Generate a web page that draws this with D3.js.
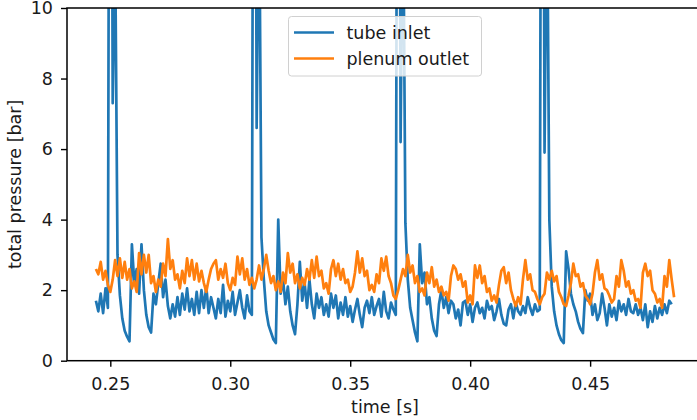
<!DOCTYPE html>
<html>
<head>
<meta charset="utf-8">
<script src="https://cdn.jsdelivr.net/npm/d3@7"></script>
<style>
    html, body { margin: 0; padding: 0; background: #fff; }
    svg { display: block; font-family: 'DejaVu Sans', sans-serif; }
</style>
</head>
<body>
<div id="chart"></div>
<script>
// sampling of both signals
const startTime = 0.244; // s
const sampleStep = 0.001; // s

// total pressure [bar], tube inlet
const tubeInlet = [
    1.7, 1.4, 1.9, 1.35, 2.05, 1.5, 30, 7.3, 12, 3.0,
    1.85, 1.2, 0.85, 0.68, 0.55, 3.3, 2.2, 2.6, 1.9, 3.3,
    2.0, 1.3, 0.95, 0.8, 1.9, 1.6, 2.2, 2.75, 1.8, 2.3,
    1.55, 1.2, 1.6, 1.25, 1.8, 1.3, 1.9, 1.45, 2.05, 1.4,
    1.75, 1.3, 1.95, 1.35, 2.0, 1.5, 2.1, 1.35, 1.8, 1.5,
    1.2, 1.75, 1.35, 2.15, 1.25, 1.7, 1.4, 1.95, 1.3, 1.65,
    2.0, 1.5, 1.2, 1.85, 1.4, 1.3, 30, 6.6, 14, 3.5,
    2.3, 1.4, 1.0, 0.8, 0.6, 0.5, 4.0, 1.9, 2.3, 1.6,
    2.1, 1.4, 1.0, 0.75, 1.6, 2.8, 1.7, 2.2, 1.5, 2.3,
    1.6, 1.2, 1.9, 1.5, 1.8, 1.3, 1.6, 1.25, 1.9, 1.5,
    1.85, 1.2, 1.65, 1.3, 1.8, 1.25, 1.55, 1.1, 1.45, 1.75,
    1.3, 0.95, 1.5, 1.7, 1.35, 1.8, 1.3, 1.55, 1.75, 1.25,
    1.95, 1.4, 1.2, 1.65, 1.45, 1.3, 30, 6.2, 14, 3.9,
    2.3, 1.5, 1.15, 0.8, 0.55, 3.3, 2.2, 2.5, 1.6, 1.8,
    1.2, 0.85, 0.7, 1.6, 2.0, 1.5, 1.8, 1.35, 1.7, 1.6,
    1.2, 1.45, 1.0, 1.65, 1.7, 1.3, 1.6, 1.1, 1.5, 1.65,
    1.35, 1.5, 1.2, 1.7, 1.45, 1.55, 1.15, 1.4, 1.75, 1.3,
    1.05, 1.0, 1.45, 1.6, 1.2, 1.65, 1.4, 1.3, 1.55, 1.35,
    1.8, 1.5, 1.3, 1.6, 1.4, 1.45, 30, 5.9, 14, 4.0,
    2.1, 1.4, 1.0, 0.75, 0.58, 0.5, 3.1, 2.6, 1.9, 1.6,
    1.4, 1.1, 0.9, 0.78, 2.0, 1.7, 1.9, 1.3, 1.6, 1.15,
    1.35, 1.9, 1.5, 1.0, 1.6, 1.25, 1.5, 1.15, 1.7, 1.4,
    1.6, 1.3, 1.75, 1.4, 1.35, 1.6, 1.3, 1.5, 1.15, 1.6,
    0.95, 1.4, 1.1, 1.55, 1.2, 1.5, 1.3, 1.6, 1.35, 1.7,
    1.6,
];

// total pressure [bar], plenum outlet
const plenumOutlet = [
    2.6, 2.45, 2.8, 2.3, 2.55, 2.15, 1.95, 2.3, 2.85, 2.4,
    2.9, 2.35, 2.8, 2.3, 2.6, 2.05, 2.25, 1.95, 3.05, 2.45,
    3.0, 2.5, 3.0, 2.2, 2.4, 1.95, 2.3, 2.1, 2.75, 2.4,
    3.45, 2.6, 2.85, 2.3, 2.45, 2.05, 2.55, 2.2, 2.9, 2.4,
    2.85, 2.3, 2.75, 2.25, 2.55, 2.2, 1.95, 2.3, 2.6, 2.75,
    2.85, 2.3, 2.6, 2.35, 2.75, 2.2, 2.0, 2.35, 2.15, 2.95,
    2.45, 2.9, 2.3, 2.6, 2.15, 2.35, 2.05, 2.3, 2.7, 2.3,
    2.6, 3.0, 2.55, 2.2, 2.4, 2.0, 2.25, 1.95, 2.5, 2.2,
    3.05, 2.5, 2.75, 2.2, 2.45, 2.05, 2.35, 2.15, 2.6, 2.3,
    2.85, 2.35, 2.95, 2.4, 2.55, 2.05, 2.2, 1.9, 2.6, 2.85,
    2.4, 2.75, 2.3, 2.6, 2.2, 2.3, 1.95, 2.1, 2.5, 3.1,
    2.5, 2.9, 2.4, 2.55, 2.0, 2.15, 1.95, 2.45, 2.2, 2.9,
    2.55, 2.95, 2.4, 2.2, 1.85, 1.75, 2.0, 2.3, 2.6, 2.4,
    3.0, 2.5, 2.7, 2.2, 2.4, 1.95, 2.05, 1.85, 2.5, 2.2,
    2.65, 2.1, 2.3, 1.95, 2.1, 1.85, 1.95, 1.7, 2.4, 2.7,
    2.6, 2.3, 2.45, 2.1, 2.25, 1.65, 1.85, 1.6, 2.7, 2.35,
    2.7, 2.2, 2.4, 1.95, 2.05, 1.7, 1.85, 1.65, 2.15, 2.55,
    2.65, 2.2, 2.5, 2.0, 1.75, 1.55, 1.8, 1.6, 2.3, 2.85,
    2.3, 2.45, 2.0, 1.95, 1.75, 1.6, 1.8, 1.9, 2.5, 2.3,
    2.55, 2.25, 2.4, 1.95, 1.8, 1.6, 1.55, 1.85, 2.2, 2.75,
    2.4, 2.45, 2.1, 2.2, 1.85, 1.75, 1.6, 1.9, 2.5, 2.85,
    2.3, 2.45, 2.05, 2.0, 1.85, 1.65, 1.75, 2.4, 2.1, 2.85,
    2.55, 2.1, 2.25, 1.9, 2.0, 1.7, 1.75, 1.5, 2.5, 2.75,
    2.4, 2.55, 2.0, 1.9, 1.65, 1.75, 1.5, 2.4, 2.1, 2.85,
    2.3, 1.8,
];

const seriesNames = ['tube inlet', 'plenum outlet'];
const seriesColors = ['#1f77b4', '#ff7f0e'];
const xTicks = [0.25, 0.3, 0.35, 0.4, 0.45];
const yTicks = [0, 2, 4, 6, 8, 10];

const width = 697;
const height = 420;
// plot frame; the right spine lies past the cropped figure edge
const frame = { left: 67, right: 703, top: 8, bottom: 360.7 };
const fontSize = 17.5;
const lineWidth = 2.7;

const toPoints = values => values.map((v, i) => [startTime + i * sampleStep, v]);
const series = [tubeInlet, plenumOutlet].map((values, idx) => ({
    name: seriesNames[idx],
    color: seriesColors[idx],
    data: toPoints(values),
}));

// matplotlib-like 5% margin on time
const allTimes = series.flatMap(s => s.data.map(d => d[0]));
const [tMin, tMax] = d3.extent(allTimes);
const pad = (tMax - tMin) * 0.05;

const x = d3.scaleLinear().domain([tMin - pad, tMax + pad]).range([frame.left, frame.right]);
const y = d3.scaleLinear().domain([0, 10]).range([frame.bottom, frame.top]);

const svg = d3.select('#chart').append('svg')
    .attr('width', width)
    .attr('height', height)
    .attr('viewBox', `0 0 ${width} ${height}`);

svg.append('defs').append('clipPath')
    .attr('id', 'plotClip')
    .append('rect')
    .attr('x', frame.left)
    .attr('y', frame.top)
    .attr('width', frame.right - frame.left)
    .attr('height', frame.bottom - frame.top);

const line = d3.line()
    .x(d => x(d[0]))
    .y(d => y(d[1]));

svg.append('g')
    .attr('clip-path', 'url(#plotClip)')
    .selectAll('path')
    .data(series)
    .join('path')
    .attr('d', d => line(d.data))
    .attr('fill', 'none')
    .attr('stroke', d => d.color)
    .attr('stroke-width', lineWidth)
    .attr('stroke-linejoin', 'round');

// axes
const xAxis = svg.append('g')
    .attr('transform', `translate(0, ${frame.bottom})`)
    .call(d3.axisBottom(x).tickValues(xTicks).tickFormat(d3.format('.2f')).tickSize(6).tickPadding(11));

const yAxis = svg.append('g')
    .attr('transform', `translate(${frame.left}, 0)`)
    .call(d3.axisLeft(y).tickValues(yTicks).tickFormat(d3.format('d')).tickSize(6).tickPadding(8));

[xAxis, yAxis].forEach(g => {
    g.select('.domain').remove();
    g.selectAll('.tick line').attr('stroke', '#000').attr('stroke-width', 1.4);
    g.selectAll('.tick text')
        .attr('fill', '#1a1a1a')
        .style('font-size', `${fontSize}px`)
        .style('font-family', "'DejaVu Sans', sans-serif");
});

// spines
svg.append('rect')
    .attr('x', frame.left)
    .attr('y', frame.top)
    .attr('width', frame.right - frame.left)
    .attr('height', frame.bottom - frame.top)
    .attr('fill', 'none')
    .attr('stroke', '#000')
    .attr('stroke-width', 1.5);

svg.append('text')
    .attr('x', (frame.left + frame.right) / 2)
    .attr('y', 413)
    .attr('text-anchor', 'middle')
    .attr('fill', '#1a1a1a')
    .style('font-size', `${fontSize}px`)
    .text('time [s]');

svg.append('text')
    .attr('transform', `translate(21, ${(frame.top + frame.bottom) / 2}) rotate(-90)`)
    .attr('text-anchor', 'middle')
    .attr('fill', '#1a1a1a')
    .style('font-size', `${fontSize}px`)
    .text('total pressure [bar]');

// legend
const legend = svg.append('g').attr('transform', 'translate(288.5, 16.5)');

legend.append('rect')
    .attr('width', 193)
    .attr('height', 59.5)
    .attr('rx', 3)
    .attr('fill', '#fff')
    .attr('fill-opacity', 0.8)
    .attr('stroke', '#d0d0d0')
    .attr('stroke-width', 1);

const rows = legend.selectAll('g.row')
    .data(series)
    .join('g')
    .attr('class', 'row')
    .attr('transform', (d, i) => `translate(0, ${16 + i * 26})`);

rows.append('line')
    .attr('x1', 5.5)
    .attr('x2', 45.5)
    .attr('stroke', d => d.color)
    .attr('stroke-width', lineWidth);

rows.append('text')
    .attr('x', 58)
    .attr('y', 6.5)
    .attr('fill', '#1a1a1a')
    .style('font-size', `${fontSize}px`)
    .text(d => d.name);
</script>
</body>
</html>
